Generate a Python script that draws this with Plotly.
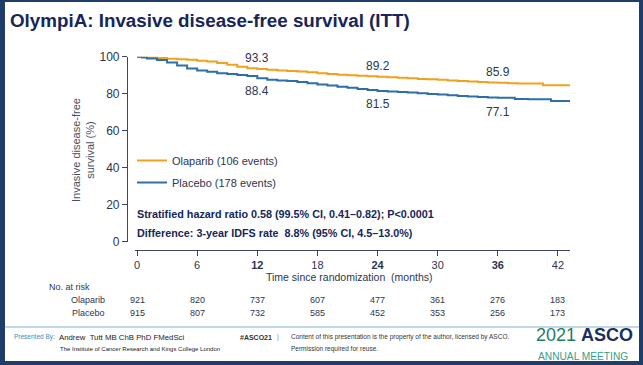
import plotly.graph_objects as go

# ---------------- data ----------------
olaparib_t = [0, 1, 2, 3, 4, 5, 6, 7, 8, 9, 10, 11, 12, 13, 14, 15, 16, 17, 18, 19, 20,
              21, 22, 23, 24, 25, 26, 27, 28, 29, 30, 31, 32, 33, 34, 35, 36, 37, 38, 40.5, 43.2]
olaparib_s = [100, 99.8, 99.3, 98.9, 98.6, 98.3, 97.8, 97.4, 96.6, 95.6, 94.6, 93.8, 93.3, 92.9,
              92.6, 92.3, 92.0, 91.6, 91.1, 90.7, 90.3, 90.0, 89.7, 89.4, 89.2, 88.9, 88.6, 88.3,
              88.0, 87.8, 87.5, 87.2, 86.9, 86.6, 86.3, 86.1, 85.9, 85.7, 85.5, 84.6, 84.6]
placebo_t = [0, 0.5, 1, 2, 3, 4, 5, 6, 7, 8, 9, 10, 11, 12, 13, 14, 15, 16, 17, 18, 19, 20,
             21, 22, 23, 24, 25, 26, 27, 28, 29, 30, 31, 32, 33, 34, 35, 36, 37.7, 39, 41.3, 43.2]
placebo_s = [100, 99.6, 99.0, 98.2, 96.9, 95.2, 93.6, 92.6, 91.8, 91.1, 90.6, 90.1, 89.6, 88.4,
             87.6, 87.2, 86.9, 86.3, 85.6, 85.0, 84.4, 83.8, 83.2, 82.6, 82.0, 81.5, 81.2, 80.9,
             80.6, 80.3, 79.9, 79.5, 79.1, 78.8, 78.5, 78.2, 78.0, 77.8, 77.1, 77.0, 76.0, 76.0]

landmark_months = [12, 24, 36]
olaparib_landmarks = [93.3, 89.2, 85.9]
placebo_landmarks = [88.4, 81.5, 77.1]

x_ticks = [0, 6, 12, 18, 24, 30, 36, 42]
x_ticktext = ["0", "6", "<b>12</b>", "18", "<b>24</b>", "30", "<b>36</b>", "42"]
y_ticks = [0, 20, 40, 60, 80, 100]

olaparib_risk = [921, 820, 737, 607, 477, 361, 276, 183]
placebo_risk = [915, 807, 732, 585, 452, 353, 256, 173]

# ---------------- style ----------------
W, H = 643, 365
FONT = "Liberation Sans, Arial, sans-serif"
NAVY = "#16265a"
BORDER = "#1f3c6a"
ORANGE = "#f0a21e"
BLUE = "#2e6fa8"
TXT = "#2d3550"
AXIS = "#3b4660"


def px(x):
    return x / W


def py(y):
    return (H - y) / H


def pann(x, y, text, size, color=TXT, xanchor="left", **kw):
    d = dict(x=px(x), y=py(y), xref="paper", yref="paper", text=text, showarrow=False,
             xanchor=xanchor, yanchor="middle", font=dict(size=size, color=color))
    d.update(kw)
    return d


fig = go.Figure()
fig.add_trace(go.Scatter(x=olaparib_t, y=olaparib_s, mode="lines", line_shape="hv",
                         line=dict(color=ORANGE, width=2), name="Olaparib (106 events)",
                         legendgroup="a"))
fig.add_trace(go.Scatter(x=placebo_t, y=placebo_s, mode="lines", line_shape="hv",
                         line=dict(color=BLUE, width=2), name="Placebo (178 events)",
                         legendgroup="b"))

ann = []
for m, v in zip(landmark_months, olaparib_landmarks):
    ann.append(dict(x=m, y=v, xref="x", yref="y", text=f"{v:.1f}", showarrow=False,
                    xanchor="center", yanchor="middle", yshift=11,
                    font=dict(size=12, color=TXT)))
for m, v in zip(landmark_months, placebo_landmarks):
    ann.append(dict(x=m, y=v, xref="x", yref="y", text=f"{v:.1f}", showarrow=False,
                    xanchor="center", yanchor="middle", yshift=-13,
                    font=dict(size=12, color=TXT)))

# risk table
ann.append(pann(47, 287, "No. at risk", 9))
ann.append(pann(107, 300, "Olaparib", 9, xanchor="right"))
ann.append(pann(107, 313, "Placebo", 9, xanchor="right"))
for m, a, b in zip(x_ticks, olaparib_risk, placebo_risk):
    ann.append(dict(x=m, y=py(300), xref="x", yref="paper", text=str(a), showarrow=False,
                    xanchor="center", yanchor="middle", font=dict(size=9, color=TXT)))
    ann.append(dict(x=m, y=py(313), xref="x", yref="paper", text=str(b), showarrow=False,
                    xanchor="center", yanchor="middle", font=dict(size=9, color=TXT)))

# axis titles
ann.append(pann(349, 276.5, "Time since randomization  (months)", 10.5, xanchor="center"))
ann.append(pann(83, 150, "Invasive disease-free<br>survival (%)", 11, color="#4a4f5e",
                xanchor="center", textangle=-90))

# stats text
ann.append(pann(135, 214, "<b>Stratified hazard ratio 0.58 (99.5% CI, 0.41–0.82); P<0.0001</b>",
                10.8, color=NAVY))
ann.append(pann(135, 233, "<b>Difference: 3-year IDFS rate  8.8% (95% CI, 4.5–13.0%)</b>",
                10.8, color=NAVY))

# title
ann.append(pann(8, 20, "<b>OlympiA: Invasive disease-free survival (ITT)</b>", 18.8, color=NAVY))

# footer
ann += [
    pann(12, 337, "Presented By:", 6.5, color="#3a8bb5"),
    pann(57, 337, "Andrew  Tutt MB ChB PhD FMedSci", 7.8, color="#222"),
    pann(58, 349, "The Institute of Cancer Research and Kings College London", 6, color="#222"),
    pann(238, 337, "<b>#ASCO21</b>", 7, color="#333"),
    pann(275, 337, "|", 7, color="#888"),
    pann(289, 337, "Content of this presentation is the property of the author, licensed by ASCO.",
         6.5, color="#333"),
    pann(289, 349, "Permission required for reuse.", 6.5, color="#333"),
    pann(534, 335, "<span style='color:#1f7d5e'>2021</span> <b>ASCO</b>", 18, color="#1b2f5e"),
    pann(536, 356, "ANNUAL MEETING", 10.2, color="#33a08a"),
]

shapes = [
    dict(type="rect", xref="paper", yref="paper", x0=px(5), x1=px(639), y0=py(361), y1=py(2),
         fillcolor="white", line=dict(width=0), layer="below"),
    dict(type="line", xref="paper", yref="paper", x0=px(5), x1=px(639), y0=py(327), y1=py(327),
         line=dict(color="#a8cde0", width=1.5)),
]

fig.update_layout(
    width=W, height=H,
    margin=dict(l=0, r=0, t=0, b=0, autoexpand=False),
    paper_bgcolor=BORDER,
    plot_bgcolor="rgba(0,0,0,0)",
    font=dict(family=FONT, color=TXT),
    showlegend=True,
    legend=dict(x=px(132), y=py(146), xanchor="left", yanchor="top",
                bgcolor="rgba(0,0,0,0)", font=dict(size=11, color=TXT),
                tracegroupgap=3, itemwidth=30),
    xaxis=dict(domain=[px(135), px(570)], range=[-0.2, 43.2], anchor="free", position=py(250),
               tickmode="array", tickvals=x_ticks, ticktext=x_ticktext, automargin=False,
               showline=True, linecolor=AXIS, linewidth=1.2, ticks="outside", ticklen=5,
               tickcolor=AXIS, showgrid=False, zeroline=False,
               tickfont=dict(size=11, color=TXT)),
    yaxis=dict(domain=[py(241.7), py(56.7)], range=[0, 100], anchor="free", position=px(127),
               tickmode="array", tickvals=y_ticks, automargin=False,
               showline=True, linecolor=AXIS, linewidth=1.2, ticks="outside", ticklen=5,
               tickcolor=AXIS, showgrid=False, zeroline=False,
               tickfont=dict(size=12, color=TXT)),
    annotations=ann,
    shapes=shapes,
)

fig.write_html("out.html", config={"displayModeBar": False},
               post_script="document.body.style.margin='0';")
